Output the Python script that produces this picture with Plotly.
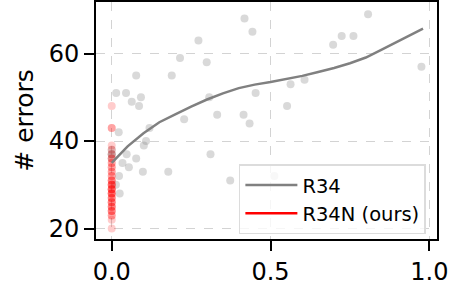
import plotly.graph_objects as go

# R34 scatter (gray)
r34_x = [0.418, 0.443, 0.273, 0.807, 0.697, 0.724, 0.761, 0.975, 0.215, 0.299,
         0.077, 0.189, 0.014, 0.045, 0.063, 0.092, 0.086, 0.307, 0.453, 0.563,
         0.607, 0.552, 0.228, 0.332, 0.415, 0.434, 0.119, 0.022, 0.108, 0.101,
         0.311, 0.077, 0.034, 0.047, 0.098, 0.178, 0.023, 0.373, 0.512, 0.025,
         0.013, 0.054, 0.0, 0.0, 0.0, 0.0]
r34_y = [68.0, 65.0, 63.0, 69.0, 62.0, 64.0, 64.0, 57.0, 59.0, 58.0,
         55.0, 55.0, 51.0, 51.0, 49.0, 50.0, 48.0, 50.0, 51.0, 53.0,
         54.0, 48.0, 45.0, 46.0, 46.0, 44.0, 43.0, 42.0, 40.0, 39.0,
         37.0, 36.0, 35.0, 37.0, 33.0, 33.0, 32.0, 31.0, 32.0, 28.0,
         30.0, 34.0, 38.0, 37.0, 37.0, 36.0]

# R34N scatter (red), all at x = 0
r34n_y = [48, 43, 43, 39, 38, 37, 36, 36, 35, 35, 34, 34, 33, 33, 32, 32, 31, 31, 31,
          30, 30, 30, 30, 29, 29, 29, 29, 28, 28, 28, 28, 27, 27, 27, 26, 26, 26,
          25, 25, 25, 24, 24, 24, 23, 23, 22, 20]
r34n_x = [0.0] * len(r34n_y)

# R34 fitted trend
fit_x = [0.0, 0.05, 0.1, 0.15, 0.2, 0.25, 0.3, 0.35, 0.4, 0.45, 0.5, 0.55, 0.6,
         0.65, 0.7, 0.75, 0.8, 0.85, 0.9, 0.95, 0.98]
fit_y = [35.0, 38.8, 41.8, 44.3, 46.1, 47.9, 49.5, 50.9, 52.1, 52.9, 53.5, 54.2, 54.9,
         55.8, 56.7, 57.8, 59.1, 60.9, 62.7, 64.6, 65.7]

x_ticks = [0.0, 0.5, 1.0]
x_tick_labels = ["0.0", "0.5", "1.0"]
y_ticks = [20, 40, 60]

font = "DejaVu Sans"

fig = go.Figure()
fig.add_trace(go.Scatter(x=r34_x, y=r34_y, mode="markers", showlegend=False,
                         marker=dict(size=8, color="rgba(128,128,128,0.3)",
                                     line=dict(width=0))))
fig.add_trace(go.Scatter(x=r34n_x, y=r34n_y, mode="markers", showlegend=False,
                         marker=dict(size=8, color="rgba(255,0,0,0.2)",
                                     line=dict(width=0))))
fig.add_trace(go.Scatter(x=fit_x, y=fit_y, mode="lines", name="R34",
                         line=dict(color="rgb(128,128,128)", width=2.5)))
fig.add_trace(go.Scatter(x=[0.0], y=[sum(r34n_y) / len(r34n_y)], mode="lines",
                         name="R34N (ours)", line=dict(color="red", width=2.5)))

axis_common = dict(showline=True, linecolor="black", linewidth=2, mirror=True,
                   ticks="outside", ticklen=10, tickwidth=2, tickcolor="black",
                   showgrid=True, gridcolor="#d3d3d3", gridwidth=1, griddash="dash",
                   zeroline=False, automargin=False,
                   tickfont=dict(family=font, size=24, color="black"))

fig.update_layout(
    width=449, height=283,
    margin=dict(l=96, r=12, t=2, b=44),
    paper_bgcolor="white", plot_bgcolor="white",
    font=dict(family=font, color="black"),
    xaxis=dict(range=[-0.0495, 1.024], tickvals=x_ticks, ticktext=x_tick_labels,
               **axis_common),
    yaxis=dict(range=[17.6, 71.8], tickvals=y_ticks,
               title=dict(text="# errors", font=dict(family=font, size=25), standoff=8),
               **axis_common),
    legend=dict(x=0.419, y=0.315, xanchor="left", yanchor="top",
                bgcolor="rgba(255,255,255,0.8)", bordercolor="#dcdcdc", borderwidth=1.5,
                font=dict(family=font, size=19.5, color="black"),
                itemwidth=52, tracegroupgap=2),
)

fig.write_html("out.html", config={"displayModeBar": False},
               post_script="document.body.style.margin='0';document.body.style.overflow='hidden';")
